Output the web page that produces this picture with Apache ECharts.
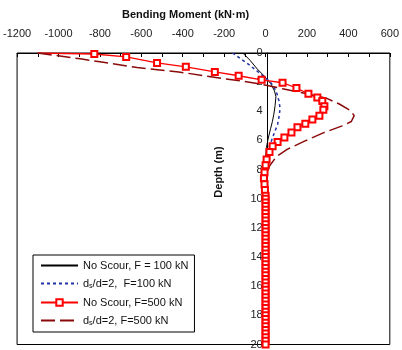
<!DOCTYPE html>
<html>
<head>
<meta charset="utf-8">
<script src="https://cdn.jsdelivr.net/npm/echarts@6/dist/echarts.min.js"></script>
<style>
html,body{margin:0;padding:0;background:#fff;}
#chart{width:402px;height:350px;}
</style>
</head>
<body>
<div id="chart"></div>
<script>
// 弯矩 (kN·m) vs 深度 (m)
var xTicks = [-1200, -1000, -800, -600, -400, -200, 0, 200, 400, 600];
var yTicks = [0, 2, 4, 6, 8, 10, 12, 14, 16, 18, 20];

var names = ['No Scour, F = 100 kN', 'ds/d=2,  F=100 kN', 'No Scour, F=500 kN', 'ds/d=2, F=500 kN'];

// No Scour, F=100
var depth1 = [0, 0.5, 1.1, 1.6, 2.1, 2.6, 3.0, 3.6, 4.2, 4.7, 5.2, 5.9, 6.5, 7.2, 20];
var moment1 = [-110, -75, -40, -5, 25, 43, 50, 46, 40, 33, 24, 12, 4, 0, 0];

// ds/d=2, F=100
var depth2 = [0, 0.4, 0.8, 1.25, 1.6, 1.95, 2.3, 2.8, 3.3, 3.8, 4.3, 4.9, 5.45, 6.0, 6.6, 7.1, 7.6, 20];
var moment2 = [-160, -120, -80, -40, -10, 20, 40, 55, 65, 70, 66, 58, 43, 29, 14, 4, 0, 0];

// No Scour, F=500 (first point has no marker)
var depth3 = [0, 0.07, 0.27, 0.68, 0.95, 1.3, 1.56, 1.84, 2.04, 2.4, 2.8, 3.06, 3.3, 3.65, 3.9, 4.3, 4.56, 4.85, 5.1, 5.45, 5.8, 6.1, 6.4, 6.8, 7.3, 7.7, 8.2, 8.6, 9.0, 9.4, 9.8,
  10.0, 10.25, 10.5, 10.75, 11.0, 11.25, 11.5, 11.75, 12.0, 12.25, 12.5, 12.75, 13.0, 13.25, 13.5, 13.75, 14.0, 14.25, 14.5, 14.75,
  15.0, 15.25, 15.5, 15.75, 16.0, 16.25, 16.5, 16.75, 17.0, 17.25, 17.5, 17.75, 18.0, 18.25, 18.5, 18.75, 19.0, 19.25, 19.5, 19.75, 20.0];
var moment3 = [-1100, -827, -673, -524, -385, -245, -130, -19, 82, 149, 207, 250, 274, 284, 279, 260, 226, 192, 154, 125, 91, 58, 34, 19, 5, 0, -5, -8, -5, -3, 0,
  0, 0, 0, 0, 0, 0, 0, 0, 0, 0, 0, 0, 0, 0, 0, 0, 0, 0, 0, 0,
  0, 0, 0, 0, 0, 0, 0, 0, 0, 0, 0, 0, 0, 0, 0, 0, 0, 0, 0, 0, 0];

// ds/d=2, F=500
var depth4 = [0, 0.4, 0.6, 1.0, 1.3, 1.55, 1.75, 1.95, 2.15, 2.45, 2.8, 3.1, 3.5, 3.95, 4.3, 4.7, 5.0, 5.45, 6.05, 6.6, 7.1, 7.75, 8.5, 20];
var moment4 = [-1100, -895, -800, -620, -420, -300, -210, -100, -20, 82, 200, 293, 356, 410, 428, 414, 370, 284, 188, 106, 53, 19, 0, 0];

function pairs(xs, ys) {
	var out = [];
	for (var i = 0; i < xs.length; i++) {
		out.push([xs[i], ys[i]]);
	}
	return out;
}

var data3 = pairs(moment3, depth3);
data3[0] = {value: data3[0], symbol: 'none'};

var font = 'Liberation Sans';
var noMark = 'rgba(0,0,0,0)'; //图例里不画圆点
var gridLeft = 17, gridRight = 9;
// y轴放在 x=0 处
var yOffset = -(402 - gridLeft - gridRight) * (0 - xTicks[0]) / (xTicks[xTicks.length - 1] - xTicks[0]);
var myChart = echarts.init(document.getElementById('chart'));

var option = {
	animation: false,
	backgroundColor: '#fff',
	textStyle: {fontFamily: font},
	title: {
		text: 'Bending Moment (kN·m)',
		left: 117,
		top: 4,
		textStyle: {fontSize: 11, fontWeight: 'bold', color: '#111', fontFamily: font}
	},
	grid: {
		left: gridLeft, right: gridRight, top: 53, bottom: 3,
		show: true, borderColor: '#000', borderWidth: 1
	},
	xAxis: {
		type: 'value',
		position: 'top',
		min: xTicks[0],
		max: xTicks[xTicks.length - 1],
		interval: 200,
		axisLine: {show: true, onZero: false, lineStyle: {color: '#000'}},
		axisTick: {show: true, inside: true, length: 4, lineStyle: {color: '#000'}},
		minorTick: {show: true, splitNumber: 2, length: 4, lineStyle: {color: '#000'}},
		axisLabel: {fontSize: 11, color: '#222', margin: 14, fontFamily: font,
			formatter: function(v) { return String(v); }},
		splitLine: {show: false}
	},
	yAxis: {
		type: 'value',
		inverse: true,
		position: 'left',
		offset: yOffset,
		min: yTicks[0],
		max: yTicks[yTicks.length - 1],
		interval: 2,
		axisLine: {show: true, onZero: false, lineStyle: {color: '#000'}},
		axisTick: {show: false},
		axisLabel: {fontSize: 11, color: '#222', margin: 5, fontFamily: font},
		splitLine: {show: false}
	},
	graphic: [{
		type: 'text',
		x: 219,
		y: 172,
		rotation: Math.PI / 2,
		style: {
			text: 'Depth (m)',
			align: 'center',
			verticalAlign: 'middle',
			font: 'bold 11px "Liberation Sans"',
			fill: '#111'
		}
	}],
	legend: {
		orient: 'vertical',
		left: 33,
		top: 255,
		padding: [5, 6, 5, 7],
		itemWidth: 37,
		itemHeight: 8,
		itemGap: 7,
		backgroundColor: '#fff',
		borderColor: '#000',
		borderWidth: 1,
		data: names,
		formatter: function(name) {
			if (name.indexOf('ds/d') === 0) {
				return '{n|d}{s|s}{n|' + name.substring(2) + '}';
			}
			return '{n|' + name + '}';
		},
		textStyle: {
			fontSize: 11,
			color: '#111',
			fontFamily: font,
			rich: {
				n: {fontSize: 11, fontFamily: font, color: '#111'},
				s: {fontSize: 7, fontFamily: font, color: '#111', verticalAlign: 'bottom', padding: [6, 0, 0, 0]}
			}
		}
	},
	series: [{
		name: names[0],
		type: 'line',
		symbol: 'circle',
		showSymbol: false,
		data: pairs(moment1, depth1),
		lineStyle: {color: '#000', width: 1},
		itemStyle: {color: noMark, borderWidth: 0}
	}, {
		name: names[1],
		type: 'line',
		symbol: 'circle',
		showSymbol: false,
		data: pairs(moment2, depth2),
		lineStyle: {color: '#2233a6', width: 1.5, type: [3, 3]},
		itemStyle: {color: noMark, borderWidth: 0}
	}, {
		name: names[2],
		type: 'line',
		symbol: 'emptyRect',
		symbolSize: 6,
		data: data3,
		lineStyle: {color: '#ff0000', width: 1.3},
		itemStyle: {color: '#ff0000', borderWidth: 1.2}
	}, {
		name: names[3],
		type: 'line',
		symbol: 'circle',
		showSymbol: false,
		data: pairs(moment4, depth4),
		lineStyle: {color: '#8a0a0a', width: 1.5, type: [14, 5]},
		itemStyle: {color: noMark, borderWidth: 0}
	}]
};

myChart.setOption(option);
window.addEventListener('resize', function() {
	myChart.resize();
});
</script>
</body>
</html>
